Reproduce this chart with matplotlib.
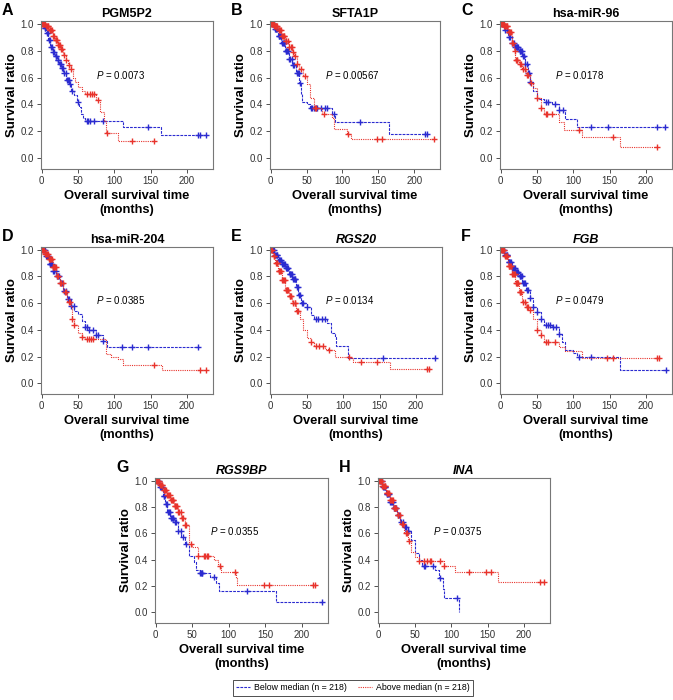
import numpy as np
import matplotlib
matplotlib.use("Agg")
import matplotlib.pyplot as plt
from matplotlib.lines import Line2D

plt.rcParams['font.family'] = ['Liberation Sans', 'DejaVu Sans']
plt.rcParams['mathtext.fontset'] = 'custom'
plt.rcParams['mathtext.it'] = 'Liberation Sans:italic'
plt.rcParams['mathtext.rm'] = 'Liberation Sans'

BLUE = '#2b2bd0'
RED = '#e8332c'

# ---- data (months, survival ratio) ----
titles = ['PGM5P2', 'SFTA1P', 'hsa-miR-96', 'hsa-miR-204', 'RGS20', 'FGB', 'RGS9BP', 'INA']
letters = ['A', 'B', 'C', 'D', 'E', 'F', 'G', 'H']
italic_title = [False, False, False, False, True, True, True, True]
pvalues = ['0.0073', '0.00567', '0.0178', '0.0385', '0.0134', '0.0479', '0.0355', '0.0375']

# A  PGM5P2
A_below_t = [0, 3, 6, 9, 12, 15, 18, 21, 24, 27, 30, 34, 38, 41, 44, 48, 51, 54, 57, 60, 112, 165]
A_below_s = [1.0, 0.97, 0.93, 0.88, 0.83, 0.79, 0.76, 0.73, 0.70, 0.67, 0.63, 0.58, 0.55, 0.50, 0.47, 0.42, 0.38, 0.33, 0.30, 0.28, 0.23, 0.175]
A_below_c = [2, 4, 5, 7, 8, 10, 11, 13, 14, 16, 17, 19, 20, 22, 23, 25, 26, 28, 29, 31, 33, 35, 36, 37, 39, 42, 50, 62, 64, 66, 72, 85, 147, 215, 218, 227]
A_above_t = [0, 5, 10, 15, 18, 22, 26, 30, 33, 36, 40, 43, 46, 50, 55, 59, 75, 80, 86, 89, 105]
A_above_s = [1.0, 0.98, 0.95, 0.91, 0.88, 0.84, 0.81, 0.77, 0.73, 0.69, 0.66, 0.60, 0.57, 0.53, 0.50, 0.48, 0.43, 0.34, 0.28, 0.19, 0.13]
A_above_c = [1, 2, 3, 4, 6, 7, 8, 9, 11, 12, 13, 14, 16, 17, 19, 20, 21, 23, 24, 25, 27, 28, 31, 34, 38, 41, 63, 66, 69, 72, 78, 90, 125, 155]

# B  SFTA1P
B_below_t = [0, 5, 10, 15, 20, 25, 30, 35, 40, 42, 44, 50, 55, 85, 90, 165]
B_below_s = [1.0, 0.96, 0.91, 0.86, 0.80, 0.74, 0.69, 0.63, 0.56, 0.48, 0.42, 0.40, 0.37, 0.33, 0.27, 0.18]
B_below_c = [2, 3, 4, 6, 7, 8, 9, 11, 12, 13, 14, 16, 17, 18, 19, 21, 22, 23, 24, 26, 27, 29, 31, 33, 36, 38, 39, 41, 56, 58, 60, 63, 65, 70, 75, 79, 88, 125, 215, 218]
B_above_t = [0, 5, 10, 15, 20, 25, 30, 33, 36, 40, 45, 50, 55, 60, 72, 85, 88, 107, 112]
B_above_s = [1.0, 0.98, 0.95, 0.91, 0.87, 0.83, 0.79, 0.76, 0.70, 0.66, 0.61, 0.55, 0.45, 0.37, 0.33, 0.30, 0.22, 0.18, 0.14]
B_above_c = [1, 2, 3, 4, 5, 6, 7, 8, 9, 11, 12, 13, 14, 16, 17, 18, 19, 21, 22, 24, 26, 28, 29, 31, 34, 37, 42, 48, 62, 63, 74, 108, 148, 155, 227]

# C  hsa-miR-96
C_below_t = [0, 5, 10, 15, 20, 25, 30, 33, 37, 40, 45, 50, 60, 70, 80, 88, 105]
C_below_s = [1.0, 0.95, 0.90, 0.86, 0.83, 0.80, 0.76, 0.70, 0.63, 0.57, 0.50, 0.44, 0.42, 0.40, 0.36, 0.29, 0.23]
C_below_c = [2, 3, 6, 8, 11, 13, 16, 18, 20, 21, 22, 23, 24, 26, 27, 28, 29, 31, 32, 34, 36, 38, 39, 41, 62, 65, 75, 80, 86, 125, 148, 216, 227]
C_above_t = [0, 5, 10, 15, 18, 20, 25, 30, 35, 40, 45, 50, 55, 60, 80, 87, 112, 165]
C_above_s = [1.0, 0.98, 0.94, 0.86, 0.80, 0.73, 0.70, 0.66, 0.62, 0.56, 0.52, 0.45, 0.37, 0.33, 0.27, 0.21, 0.16, 0.08]
C_above_c = [1, 2, 3, 4, 5, 6, 7, 8, 9, 11, 12, 13, 14, 16, 17, 19, 21, 22, 23, 26, 28, 31, 33, 36, 38, 42, 50, 56, 62, 64, 70, 108, 155, 215]

# D  hsa-miR-204
D_below_t = [0, 5, 10, 15, 20, 25, 30, 35, 40, 45, 50, 55, 60, 65, 75, 85, 90]
D_below_s = [1.0, 0.95, 0.89, 0.84, 0.80, 0.75, 0.69, 0.63, 0.58, 0.54, 0.52, 0.47, 0.42, 0.40, 0.36, 0.32, 0.27]
D_below_c = [2, 3, 4, 6, 7, 8, 9, 11, 12, 13, 14, 16, 17, 19, 21, 22, 24, 26, 28, 31, 33, 36, 38, 41, 44, 60, 62, 65, 70, 75, 78, 85, 110, 125, 147, 215]
D_above_t = [0, 5, 10, 15, 20, 25, 30, 35, 40, 42, 45, 50, 55, 60, 88, 95, 105, 112, 166]
D_above_s = [1.0, 0.97, 0.93, 0.87, 0.80, 0.75, 0.68, 0.61, 0.57, 0.48, 0.44, 0.38, 0.35, 0.33, 0.22, 0.20, 0.18, 0.14, 0.10]
D_above_c = [1, 2, 3, 5, 6, 7, 9, 10, 11, 12, 13, 14, 15, 16, 17, 18, 19, 21, 23, 25, 27, 29, 32, 34, 37, 39, 42, 45, 56, 62, 65, 68, 71, 155, 218, 227]

# E  RGS20
E_below_t = [0, 5, 10, 15, 20, 25, 30, 35, 38, 42, 50, 55, 60, 78, 83, 88, 90, 107]
E_below_s = [1.0, 0.96, 0.92, 0.89, 0.86, 0.82, 0.78, 0.72, 0.66, 0.60, 0.57, 0.51, 0.48, 0.45, 0.38, 0.35, 0.28, 0.19]
E_below_c = [2, 3, 4, 6, 7, 8, 9, 11, 12, 13, 14, 16, 17, 18, 19, 21, 22, 23, 24, 26, 27, 28, 29, 31, 32, 33, 34, 36, 37, 39, 40, 43, 45, 50, 63, 65, 70, 75, 155, 227]
E_above_t = [0, 3, 6, 10, 15, 20, 25, 30, 35, 40, 45, 50, 55, 60, 75, 80, 88, 110, 113, 165]
E_above_s = [1.0, 0.95, 0.90, 0.84, 0.77, 0.70, 0.65, 0.60, 0.54, 0.48, 0.40, 0.34, 0.31, 0.28, 0.26, 0.25, 0.20, 0.19, 0.16, 0.11]
E_above_c = [1, 2, 4, 5, 7, 8, 9, 11, 12, 13, 14, 16, 17, 18, 19, 21, 22, 23, 24, 26, 27, 28, 31, 33, 34, 36, 37, 56, 63, 67, 72, 80, 108, 125, 147, 215, 218]

# F  FGB
F_below_t = [0, 5, 10, 15, 20, 25, 30, 35, 40, 45, 50, 55, 60, 70, 80, 85, 88, 100, 105, 165]
F_below_s = [1.0, 0.96, 0.91, 0.86, 0.83, 0.80, 0.75, 0.70, 0.64, 0.57, 0.53, 0.48, 0.44, 0.42, 0.37, 0.31, 0.25, 0.23, 0.20, 0.10]
F_below_c = [2, 3, 4, 6, 7, 8, 9, 11, 12, 13, 14, 16, 17, 18, 19, 21, 22, 23, 24, 26, 27, 28, 29, 31, 32, 34, 36, 38, 41, 45, 50, 56, 62, 65, 68, 72, 76, 80, 108, 125, 228]
F_above_t = [0, 5, 10, 15, 20, 25, 30, 35, 40, 45, 50, 55, 60, 80, 88, 112]
F_above_s = [1.0, 0.95, 0.88, 0.82, 0.75, 0.68, 0.61, 0.57, 0.55, 0.48, 0.40, 0.36, 0.31, 0.27, 0.24, 0.19]
F_above_c = [1, 2, 3, 4, 6, 7, 8, 9, 11, 12, 13, 14, 16, 17, 18, 19, 21, 22, 23, 24, 26, 27, 28, 31, 33, 36, 38, 40, 50, 55, 62, 65, 75, 147, 155, 215, 218]

# G  RGS9BP
G_below_t = [0, 5, 10, 13, 16, 20, 25, 30, 35, 40, 45, 52, 55, 60, 75, 83, 87, 165]
G_below_s = [1.0, 0.95, 0.88, 0.82, 0.76, 0.72, 0.69, 0.62, 0.57, 0.52, 0.43, 0.38, 0.32, 0.30, 0.27, 0.22, 0.16, 0.08]
G_below_c = [2, 3, 4, 6, 7, 8, 9, 11, 12, 14, 15, 17, 18, 19, 21, 22, 23, 24, 26, 28, 31, 34, 38, 41, 60, 62, 63, 64, 80, 125, 228]
G_above_t = [0, 5, 10, 15, 20, 25, 30, 35, 40, 45, 50, 58, 80, 85, 90, 110, 112]
G_above_s = [1.0, 0.97, 0.93, 0.89, 0.85, 0.81, 0.76, 0.72, 0.66, 0.52, 0.50, 0.43, 0.40, 0.35, 0.31, 0.26, 0.21]
G_above_c = [1, 2, 3, 4, 6, 7, 8, 9, 11, 12, 13, 14, 16, 17, 18, 19, 21, 22, 23, 24, 26, 27, 28, 29, 31, 32, 34, 36, 38, 40, 42, 48, 58, 66, 68, 70, 72, 88, 108, 148, 155, 215, 218]

# H  INA
H_below_t = [0, 5, 10, 15, 20, 25, 30, 35, 40, 45, 50, 55, 60, 78, 83, 88, 90, 110]
H_below_s = [1.0, 0.95, 0.90, 0.84, 0.79, 0.74, 0.69, 0.65, 0.62, 0.55, 0.45, 0.40, 0.35, 0.32, 0.26, 0.18, 0.11, 0.0]
H_below_c = [2, 3, 4, 6, 7, 8, 9, 11, 12, 13, 14, 16, 17, 18, 19, 21, 22, 23, 24, 26, 28, 31, 33, 36, 38, 40, 41, 62, 64, 75, 85, 108]
H_above_t = [0, 5, 10, 15, 20, 25, 30, 35, 40, 45, 50, 55, 90, 105, 165]
H_above_s = [1.0, 0.96, 0.91, 0.85, 0.79, 0.74, 0.67, 0.60, 0.54, 0.46, 0.42, 0.39, 0.35, 0.31, 0.23]
H_above_c = [1, 2, 3, 4, 5, 6, 7, 8, 9, 11, 12, 13, 14, 16, 17, 18, 19, 21, 22, 23, 24, 26, 27, 29, 32, 34, 37, 39, 42, 56, 62, 66, 70, 72, 85, 90, 125, 148, 155, 222, 228]

below = [(A_below_t, A_below_s, A_below_c), (B_below_t, B_below_s, B_below_c),
         (C_below_t, C_below_s, C_below_c), (D_below_t, D_below_s, D_below_c),
         (E_below_t, E_below_s, E_below_c), (F_below_t, F_below_s, F_below_c),
         (G_below_t, G_below_s, G_below_c), (H_below_t, H_below_s, H_below_c)]
above = [(A_above_t, A_above_s, A_above_c), (B_above_t, B_above_s, B_above_c),
         (C_above_t, C_above_s, C_above_c), (D_above_t, D_above_s, D_above_c),
         (E_above_t, E_above_s, E_above_c), (F_above_t, F_above_s, F_above_c),
         (G_above_t, G_above_s, G_above_c), (H_above_t, H_above_s, H_above_c)]

# axes boxes in pixels: left, top, width, height
W, H = 673, 700
boxes = [(41, 21, 172, 148), (270, 21, 170, 148), (500, 21, 172, 148),
         (41, 247, 172, 147), (270, 247, 172, 147), (500, 247, 172, 147),
         (155, 478, 173, 145), (378, 478, 172, 145)]


def km(ax, t, s, c, color, ls):
    t = np.asarray(t, float)
    s = np.asarray(s, float)
    c = np.asarray(c, float)
    end = max(t.max(), c.max())
    tt = np.append(t, end)
    ss = np.append(s, s[-1])
    ax.step(tt, ss, where='post', color=color, lw=0.8, ls=ls)
    # censored cases sit on the curve
    idx = np.searchsorted(t, c, side='right') - 1
    ax.plot(c, s[idx], ls='none', marker='+', ms=5, mew=1.0, color=color)


fig = plt.figure(figsize=(W / 100, H / 100), dpi=100)

for i in range(8):
    l, tp, w, h = boxes[i]
    ax = fig.add_axes([l / W, 1 - (tp + h) / H, w / W, h / H])
    km(ax, *below[i], BLUE, (0, (2.5, 1)))
    km(ax, *above[i], RED, (0, (1, 1)))
    ax.set_xlim(-1, 236)
    ax.set_ylim(-0.08, 1.02)
    ax.set_xticks([0, 50, 100, 150, 200])
    ax.set_yticks([0, 0.2, 0.4, 0.6, 0.8, 1.0])
    ax.set_yticklabels(['0.0', '0.2', '0.4', '0.6', '0.8', '1.0'])
    ax.tick_params(labelsize=7, length=3, width=0.6, colors='#333333', pad=2)
    for sp in ax.spines.values():
        sp.set_color('#777777')
        sp.set_linewidth(0.8)
    ax.set_ylabel('Survival ratio', fontsize=9.5, fontweight='bold', labelpad=2)
    ax.set_xlabel('Overall survival time\n(months)', fontsize=9.3, fontweight='bold', labelpad=3)
    ax.set_title(titles[i], fontsize=9, fontweight='bold',
                 style='italic' if italic_title[i] else 'normal', pad=3)
    ax.text(75, 0.62, r'$P$ = ' + pvalues[i], fontsize=7, ha='left', va='center')
    fig.text((l - 39) / W, 1 - (tp - 18) / H, letters[i], fontsize=11.5, fontweight='bold',
             ha='left', va='top')

handles = [Line2D([], [], color=BLUE, lw=0.8, ls=(0, (2.5, 1))),
           Line2D([], [], color=RED, lw=0.8, ls=(0, (1, 1)))]
leg = fig.legend(handles, ['Below median (n = 218)', 'Above median (n = 218)'],
                 loc='center', bbox_to_anchor=(353 / W, 1 - 688 / H), ncol=2,
                 fontsize=6.3, frameon=True, fancybox=False, handlelength=1.6,
                 columnspacing=1.2, borderpad=0.4, handletextpad=0.5)
leg.get_frame().set_edgecolor('black')
leg.get_frame().set_linewidth(0.6)

fig.savefig('out.png', dpi=100)
